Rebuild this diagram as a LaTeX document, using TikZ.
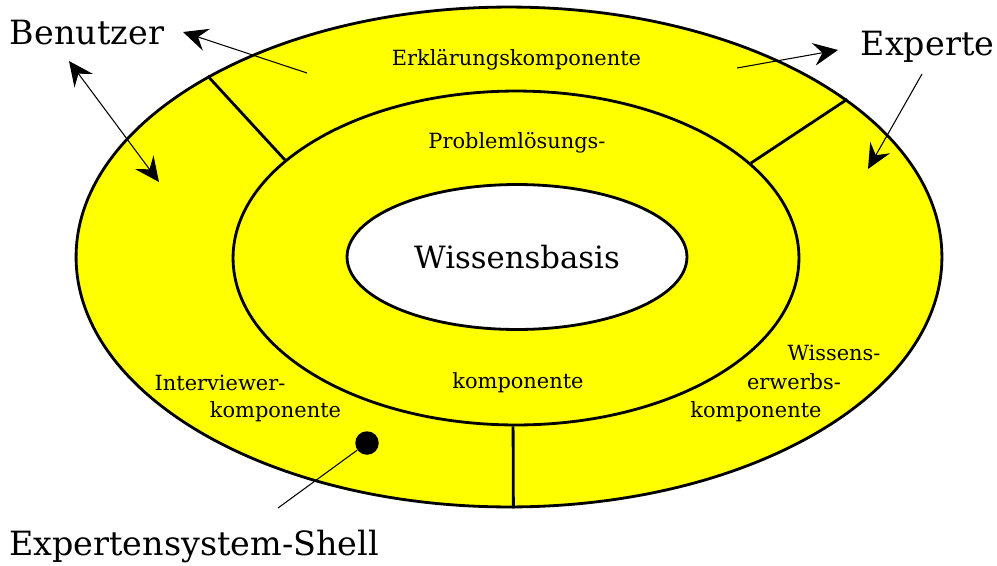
\documentclass[tikz,border=0pt]{standalone}
\usepackage{fontspec}
\setmainfont{DejaVu Serif}
\usetikzlibrary{
    shapes.geometric,
    positioning,
    arrows.meta
}
\definecolor{ringyellow}{RGB}{255,255,0}

\begin{document}
\begin{tikzpicture}[
      x=0.02cm, y=-0.02cm,
      ring/.style={draw, ellipse, line width=1.6pt, inner sep=0pt, fill=ringyellow},
      divider/.style={line width=1.6pt},
      big/.style={font=\fontsize{19}{22}\selectfont, inner sep=0pt, anchor=base},
      part/.style={font=\fontsize{11.9}{14}\selectfont, inner sep=0pt, anchor=base},
      pointer/.style={-{Stealth[length=14pt, width=13pt, inset=5pt]}, line width=0.6pt},
      twoway/.style={pointer, {Stealth[length=14pt, width=13pt, inset=5pt]}-{Stealth[length=14pt, width=13pt, inset=5pt]}}
    ]
    \useasboundingbox (0,0) rectangle (997,565);

    \node[ring, minimum width=17.32cm, minimum height=10cm] (outer) at (509,257) {};
    \node[ring, minimum width=11.32cm, minimum height=6.68cm] (middle) at (516,258) {};
    \node[ring, fill=white, minimum width=6.8cm, minimum height=2.9cm,
          font=\fontsize{17.5}{20}\selectfont] (kb) at (517,257) {Wissensbasis};

    \draw[divider] (outer.149.5) -- (middle.157.2);
    \draw[divider] (outer.25.8) -- (middle.22.3);
    \draw[divider] (outer.-89.3) -- (middle.-91.4);

    \node[part] (erkl) at (516.5,65) {Erklärungskomponente};
    \node[part] (probA) at (517,148) {Problemlösungs-};
    \node[part] (probB) at (518,388) {komponente};
    \node[part] (intA) at (220,390) {Interviewer-};
    \node[part] (intB) at (275.5,417) {komponente};
    \node[part] (wisA) at (834,360) {Wissens-};
    \node[part] (wisB) at (794,389) {erwerbs-};
    \node[part] (wisC) at (756,417) {komponente};

    \node[big] (benutzer) at (87,44) {Benutzer};
    \node[big] (experte) at (927.5,55) {Experte};
    \node[big] (shell) at (194,555) {Expertensystem-Shell};

    \coordinate (erklOut) at (307,73);
    \coordinate (erklTip) at (183,32);
    \coordinate (userTip) at (69,61);
    \coordinate (intTip) at (159,182);
    \coordinate (erklIn) at (737,68);
    \coordinate (expTip) at (838,50);
    \coordinate (expStart) at (922,74);
    \coordinate (wisTip) at (868,169);
    \coordinate (shellEnd) at (278,508);

    \draw[pointer] (erklOut) -- (erklTip);
    \draw[twoway] (userTip) -- (intTip);
    \draw[pointer] (erklIn) -- (expTip);
    \draw[pointer] (expStart) -- (wisTip);

    \node[circle, fill, inner sep=0pt, minimum size=0.47cm] (dot) at (367,443) {};
    \draw[line width=0.6pt] (shellEnd) -- (dot);
  \end{tikzpicture}
\end{document}
